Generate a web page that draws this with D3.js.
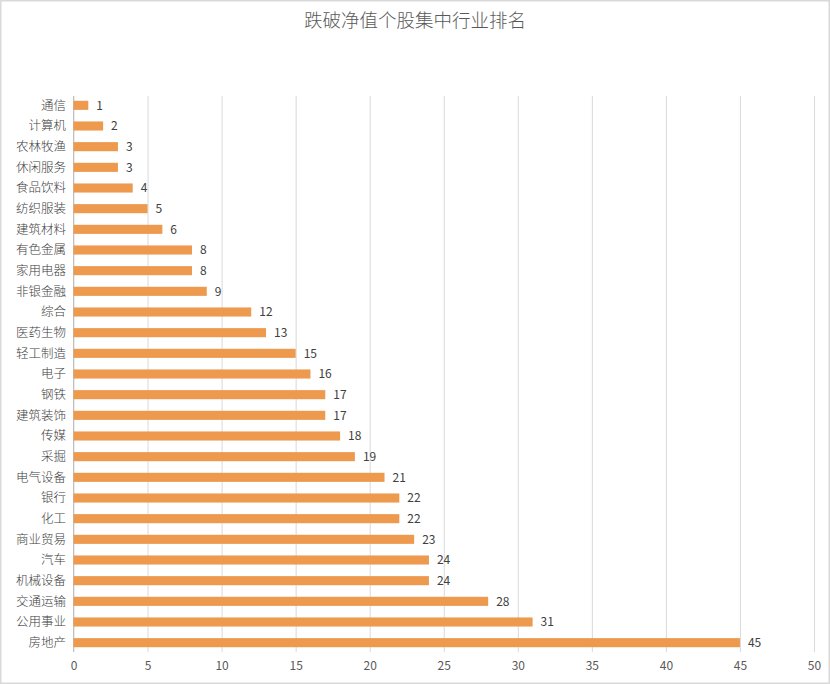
<!DOCTYPE html>
<html><head><meta charset="utf-8">
<script src="https://cdn.jsdelivr.net/npm/d3@7"></script>
<style>body{margin:0;background:#fff}svg{display:block}text{font-family:"Noto Sans CJK SC","Microsoft YaHei",sans-serif}</style>
</head><body>
<script>
const categories = ["通信","计算机","农林牧渔","休闲服务","食品饮料","纺织服装","建筑材料","有色金属","家用电器","非银金融","综合","医药生物","轻工制造","电子","钢铁","建筑装饰","传媒","采掘","电气设备","银行","化工","商业贸易","汽车","机械设备","交通运输","公用事业","房地产"];
const values = [1,2,3,3,4,5,6,8,8,9,12,13,15,16,17,17,18,19,21,22,22,23,24,24,28,31,45];
const xTicks = [0,5,10,15,20,25,30,35,40,45,50];
const title = "跌破净值个股集中行业排名";

const W = 830, H = 684;
const svg = d3.select("body").append("svg").attr("width", W).attr("height", H);
svg.append("rect").attr("x",0.5).attr("y",0.5).attr("width",W-1).attr("height",H-1).attr("fill","#fff").attr("stroke","#d9d9d9").attr("stroke-width",2);

const x = d3.scaleLinear().domain([0,50]).range([73.5, 814]);
const y = d3.scaleBand().domain(categories).range([95, 653]).paddingInner(0.56).paddingOuter(0.28);

svg.append("text").attr("x", W/2).attr("y", 27).attr("text-anchor","middle")
  .attr("font-size", 18.5).attr("font-weight",300).attr("fill","#595959").text(title);

const gx = svg.append("g").attr("transform","translate(0,652)")
  .call(d3.axisBottom(x).tickValues(xTicks).tickSize(-556).tickPadding(9));
gx.select(".domain").remove();
gx.selectAll(".tick line").attr("stroke","#d9d9d9");
gx.selectAll(".tick text").attr("font-size",12).attr("fill","#595959");

svg.append("line").attr("x1",x(0)).attr("x2",x(0)).attr("y1",96).attr("y2",652).attr("stroke","#bfbfbf");

svg.selectAll("rect.bar").data(categories).join("rect").attr("class","bar")
  .attr("x", x(0)).attr("y", d => y(d))
  .attr("width", (d,i) => x(values[i]) - x(0)).attr("height", y.bandwidth())
  .attr("fill","#ed9a4f");

svg.selectAll("text.val").data(categories).join("text").attr("class","val")
  .attr("x", (d,i) => x(values[i]) + 8).attr("y", d => y(d) + y.bandwidth()/2)
  .attr("dy","0.35em").attr("font-size",12).attr("fill","#404040")
  .text((d,i) => values[i]);

svg.selectAll("text.cat").data(categories).join("text").attr("class","cat")
  .attr("x", 66).attr("y", d => y(d) + y.bandwidth()/2)
  .attr("dy","0.35em").attr("text-anchor","end").attr("font-size",12.5).attr("font-weight",300).attr("fill","#404040")
  .text(d => d);
</script>
</body></html>
